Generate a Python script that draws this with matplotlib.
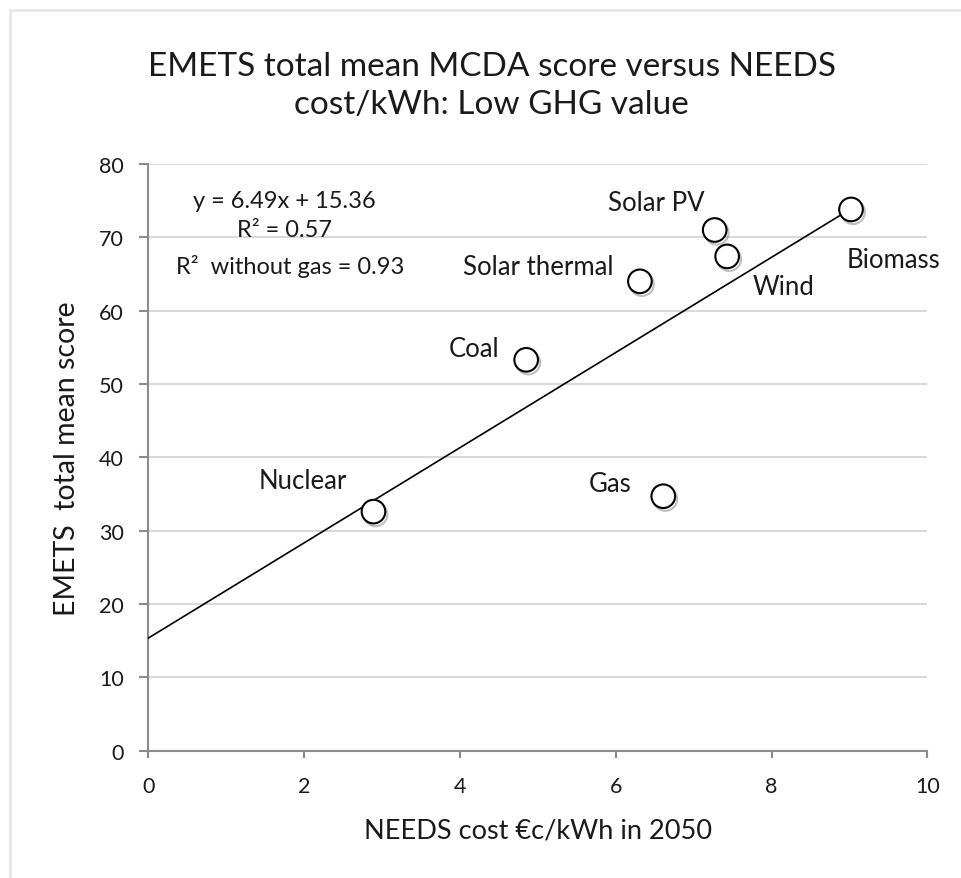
import matplotlib
matplotlib.use("Agg")
import matplotlib.pyplot as plt
import matplotlib.patheffects as pe
from matplotlib.lines import Line2D

plt.rcParams["font.family"] = ["Lato", "DejaVu Sans"]

# datos
TECHS = ["Nuclear", "Coal", "Solar thermal", "Solar PV", "Wind", "Biomass", "Gas"]
COST = [2.89, 4.85, 6.31, 7.27, 7.43, 9.02, 6.61]
SCORE = [32.6, 53.3, 64.0, 71.0, 67.4, 73.8, 34.7]

TREND_SLOPE = 6.49
TREND_INTERCEPT = 15.36
TREND_X = [0.0, 9.02]

X_TICKS = [0, 2, 4, 6, 8, 10]
Y_TICKS = [0, 10, 20, 30, 40, 50, 60, 70, 80]

# desplazamiento de las etiquetas (pixeles) respecto al punto
LABEL_OFFSETS = {
    "Nuclear": (-71, 31),
    "Coal": (-52, 11),
    "Solar thermal": (-102, 15),
    "Solar PV": (-58, 27),
    "Wind": (56, -30),
    "Biomass": (42, -50),
    "Gas": (-53, 13),
}

GRID_COLOR = "#d9d9d9"
AXIS_COLOR = "#8c8c8c"
TEXT_COLOR = "#1a1a1a"

fig = plt.figure(figsize=(9.62, 8.79), dpi=100)
ax = fig.add_axes([0.1542, 0.1448, 0.8098, 0.6675])

# marco exterior (solo izquierda y arriba)
fig.add_artist(Line2D([9.5 / 962, 9.5 / 962], [0, 1 - 11 / 879], transform=fig.transFigure,
                      color="#e6e6e6", linewidth=2))
fig.add_artist(Line2D([9.5 / 962, 1], [1 - 11 / 879, 1 - 11 / 879], transform=fig.transFigure,
                      color="#e6e6e6", linewidth=2))

ax.set_xlim(0, 10)
ax.set_ylim(0, 80)
ax.set_xticks(X_TICKS)
ax.set_yticks(Y_TICKS)
ax.yaxis.grid(True, color=GRID_COLOR, linewidth=1.5)
ax.set_axisbelow(True)
for side in ("top", "right"):
    ax.spines[side].set_visible(False)
for side in ("left", "bottom"):
    ax.spines[side].set_color(AXIS_COLOR)
    ax.spines[side].set_linewidth(1.5)
ax.tick_params(axis="both", direction="out", width=1.5, color=AXIS_COLOR,
               labelsize=15.5, labelcolor=TEXT_COLOR)
ax.tick_params(axis="x", length=5, pad=13)
ax.tick_params(axis="y", length=6.5, pad=11)

trend_y = [TREND_SLOPE * x + TREND_INTERCEPT for x in TREND_X]
ax.plot(TREND_X, trend_y, color="black", linewidth=1.2, zorder=3)

pts = ax.plot(COST, SCORE, linestyle="", marker="o", markersize=17, markerfacecolor="white",
              markeredgecolor="black", markeredgewidth=1.5, zorder=4)[0]
pts.set_path_effects([pe.SimpleLineShadow(offset=(1.5, -2), alpha=0.25), pe.Normal()])

for name, x, y in zip(TECHS, COST, SCORE):
    dx, dy = LABEL_OFFSETS[name]
    ax.annotate(name, (x, y), xytext=(dx, dy), textcoords="offset pixels",
                ha="center", va="center", fontsize=18.5, color=TEXT_COLOR, annotation_clip=False)

ax.text(0.175, 0.9375, "y = 6.49x + 15.36", transform=ax.transAxes, ha="center", va="center",
        fontsize=17, color=TEXT_COLOR)
ax.text(0.175, 0.889, "R² = 0.57", transform=ax.transAxes, ha="center", va="center",
        fontsize=17, color=TEXT_COLOR)
ax.text(0.182, 0.8275, "R²  without gas = 0.93", transform=ax.transAxes, ha="center", va="center",
        fontsize=17, color=TEXT_COLOR)

ax.set_xlabel("NEEDS cost €c/kWh in 2050", fontsize=19.5, color=TEXT_COLOR, labelpad=16)
ax.set_ylabel("EMETS  total mean score", fontsize=20.5, color=TEXT_COLOR, labelpad=14)

fig.text(0.511, 1 - 86 / 879, "EMETS total mean MCDA score versus NEEDS\ncost/kWh: Low GHG value",
         ha="center", va="center", fontsize=24, color=TEXT_COLOR, linespacing=1.3)

fig.savefig("out.png", dpi=100)
